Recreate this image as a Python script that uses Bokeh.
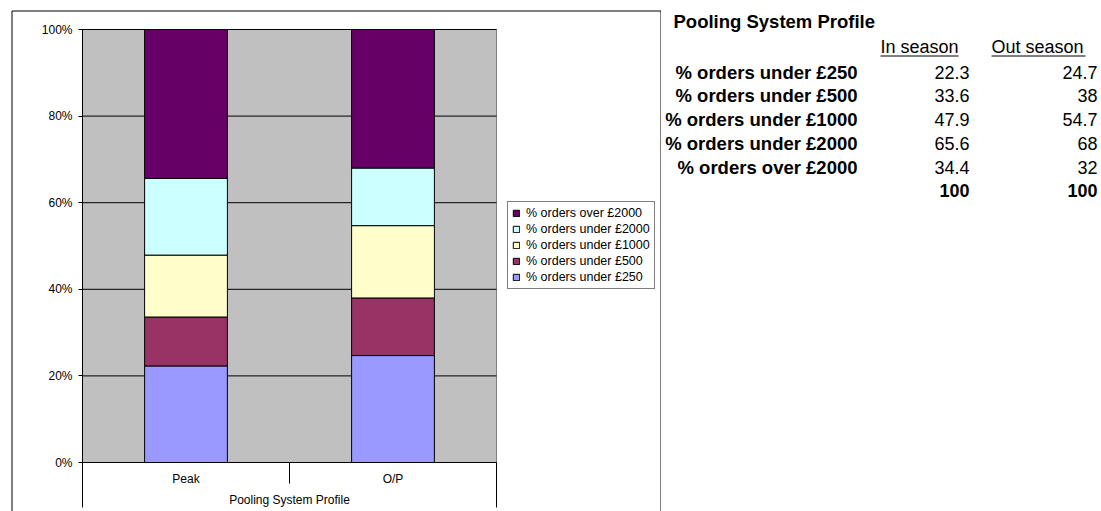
from bokeh.core.properties import value
from bokeh.embed import file_html
from bokeh.layouts import row
from bokeh.models import (ColumnDataSource, FixedTicker, Legend, LegendItem, LinearAxis,
                          PrintfTickFormatter, Range1d)
from bokeh.plotting import figure
from bokeh.resources import INLINE

# ---- data -----------------------------------------------------------------
periods = ["Peak", "O/P"]
profile_title = "Pooling System Profile"
season_headers = ["In season", "Out season"]
row_labels = ["% orders under £250", "% orders under £500", "% orders under £1000",
              "% orders under £2000", "% orders over £2000"]
in_season = [22.3, 33.6, 47.9, 65.6, 34.4]
out_season = [24.7, 38, 54.7, 68, 32]
pct_ticks = [0, 20, 40, 60, 80, 100]
band_colors = ["#9999FF", "#993366", "#FFFFCC", "#CCFFFF", "#660066"]

FONT = "Liberation Sans"

# ---- chart geometry (page pixels) -------------------------------------------
PAGE_W, PAGE_H = 1101, 511
CHART_W = 661
BOX_L, BOX_T, BOX_R = 11.5, 10.5, 660.5      # chart border
PLOT_L, PLOT_R, PLOT_T, PLOT_B = 82, 496, 29, 462
n = len(periods)
PX_PER_CAT = (PLOT_R - PLOT_L) / n
PX_PER_PCT = (PLOT_B - PLOT_T) / 100


def px_x(px):
    # page x -> category units
    return (px - PLOT_L) / PX_PER_CAT


def px_y(py):
    # page y -> percent units
    return (PLOT_B - py) / PX_PER_PCT


def below_axis(px):
    return -px / PX_PER_PCT


def band_sizes(col):
    # first four rows are cumulative shares; the last row is the remainder
    under = col[:4]
    sizes = [under[0]] + [round(b - a, 1) for a, b in zip(under, under[1:])]
    return sizes + [col[4]]


centers = [i + 0.5 for i in range(n)]
keys = [f"band{i}" for i in range(len(row_labels))]
columns = [band_sizes(in_season), band_sizes(out_season)]
data = {"pos": centers, "period": periods}
for i, k in enumerate(keys):
    data[k] = [c[i] for c in columns]
src = ColumnDataSource(data)

chart = figure(x_range=Range1d(px_x(0), px_x(CHART_W)),
               y_range=Range1d(px_y(PAGE_H), px_y(0)),
               width=CHART_W, height=PAGE_H, min_border=0, title=None,
               x_axis_location=None, y_axis_location=None,
               output_backend="svg", toolbar_location=None)
chart.background_fill_color = "white"
chart.border_fill_color = "white"
chart.outline_line_color = None
chart.grid.grid_line_color = None

# chart border (open at the bottom)
chart.line(x=[px_x(BOX_L), px_x(BOX_L), px_x(BOX_R), px_x(BOX_R)],
           y=[px_y(PAGE_H + 5), px_y(BOX_T), px_y(BOX_T), px_y(PAGE_H + 5)],
           line_color="black", line_width=1)

# plot area and gridlines
chart.quad(left=0, right=n, bottom=0, top=100, fill_color="#C0C0C0", line_color="#808080")
chart.segment(x0=[0] * len(pct_ticks), x1=[n] * len(pct_ticks), y0=pct_ticks, y1=pct_ticks,
              line_color="black", line_width=1)

bars = chart.vbar_stack(keys, x="pos", width=0.4, source=src,
                        fill_color=band_colors, line_color="black", line_width=1)

# category boundary marks below the axis
edges = list(range(n + 1))
chart.segment(x0=edges, x1=edges, y0=[0] * (n + 1),
              y1=[below_axis(45) if i in (0, n) else below_axis(21) for i in edges],
              line_color="black", line_width=1)

# value axis, pinned to the left edge of the plot area
yax = LinearAxis(fixed_location=0, bounds=(0, 100))
yax.ticker = FixedTicker(ticks=pct_ticks)
yax.formatter = PrintfTickFormatter(format="%d%%")
yax.major_tick_out = 4
yax.major_tick_in = 0
yax.minor_tick_line_color = None
yax.minor_tick_out = 0
yax.major_label_standoff = 6
yax.axis_line_color = "black"
yax.major_tick_line_color = "black"
yax.major_label_text_font = FONT
yax.major_label_text_font_size = "12px"
yax.major_label_text_color = "black"
chart.add_layout(yax, "left")

# category axis, pinned to the 0% line
xax = LinearAxis(fixed_location=0, bounds=(0, n))
xax.ticker = FixedTicker(ticks=centers)
xax.major_label_overrides = {c: name for c, name in zip(centers, periods)}
xax.major_tick_line_color = None
xax.major_tick_out = 0
xax.major_tick_in = 0
xax.minor_tick_line_color = None
xax.minor_tick_out = 0
xax.axis_line_color = "black"
xax.major_label_standoff = 9
xax.major_label_text_font = FONT
xax.major_label_text_font_size = "12px"
xax.major_label_text_color = "black"
xax.axis_label = profile_title
xax.axis_label_standoff = 4
xax.axis_label_text_font = FONT
xax.axis_label_text_font_size = "12px"
xax.axis_label_text_font_style = "normal"
xax.axis_label_text_color = "black"
chart.add_layout(xax, "below")

legend = Legend(items=[LegendItem(label=row_labels[i], renderers=[bars[i]])
                       for i in reversed(range(len(row_labels)))],
                location=(507, PAGE_H - 289))
legend.border_line_color = "black"
legend.border_line_width = 1
legend.background_fill_color = "white"
legend.background_fill_alpha = 1
legend.label_text_font = FONT
legend.label_text_font_size = "12.5px"
legend.label_text_color = "black"
legend.glyph_width = 8
legend.glyph_height = 8
legend.label_height = 12
legend.label_standoff = 6
legend.spacing = 2
legend.padding = 4
legend.margin = 0
chart.add_layout(legend, "center")

# ---- summary table (page pixel coordinates) ---------------------------------
table = figure(x_range=Range1d(CHART_W, PAGE_W), y_range=Range1d(PAGE_H, 0),
               width=PAGE_W - CHART_W, height=PAGE_H, min_border=0, title=None,
               x_axis_location=None, y_axis_location=None,
               output_backend="svg", toolbar_location=None)
table.outline_line_color = None
table.grid.grid_line_color = None
table.background_fill_color = "white"
table.border_fill_color = "white"


def put(xs, ys, texts, align, bold=False, size="18px"):
    table.text(x=xs, y=ys, text=texts, text_font=value(FONT), text_font_size=size,
               text_font_style="bold" if bold else "normal", text_color="black",
               text_align=align, text_baseline="middle")


put([673], [20.5], [profile_title], "left", bold=True, size="18.5px")
header_x = [(880, 958), (991, 1085)]
put([h[0] for h in header_x], [46.5, 46.5], season_headers, "left")
table.segment(x0=[h[0] for h in header_x], x1=[h[1] for h in header_x],
              y0=[55.5, 55.5], y1=[55.5, 55.5], line_color="black", line_width=1)

row_mid = [71.5, 95, 118.5, 143, 166.5]
total_mid = 190
value_right = [969, 1097]
put([857] * len(row_labels), row_mid, row_labels, "right", bold=True, size="18.5px")
for col, xr in zip([in_season, out_season], value_right):
    put([xr] * len(col), row_mid, [f"{v:g}" for v in col], "right")
    put([xr], [total_mid], [f"{round(col[3] + col[4], 1):g}"], "right", bold=True)

page = row(chart, table)
open("out.html", "w").write(file_html(page, INLINE))
